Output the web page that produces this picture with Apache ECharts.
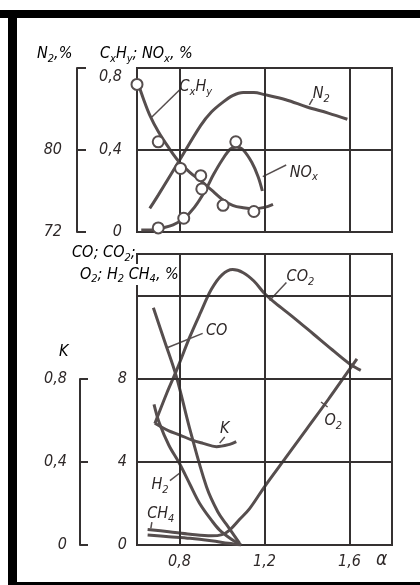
<!DOCTYPE html>
<html><head><meta charset="utf-8">
<script src="https://cdn.jsdelivr.net/npm/echarts@6/dist/echarts.min.js"></script>
<style>html,body{margin:0;padding:0;background:#fff}#c{width:420px;height:585px}</style>
</head><body><div id="c"></div>
<script>
// ---------- data (alpha, value) ----------
const xGridTicks = [0.8, 1.2, 1.6];
const topYGrid = [0.4];
const bottomYGrid = [4, 8, 12];

const cxhyCurve = [[0.60,0.74],[0.63,0.65],[0.66,0.57],[0.70,0.49],[0.75,0.41],[0.80,0.34],[0.85,0.29],[0.90,0.25],[0.95,0.205],[1.00,0.16],[1.05,0.13],[1.10,0.118],[1.15,0.113],[1.20,0.12],[1.24,0.135]];
const cxhyPoints = [[0.60,0.72],[0.70,0.44],[0.805,0.31],[0.90,0.275],[1.005,0.13],[1.15,0.10]];
const noxCurve = [[0.62,0.01],[0.67,0.01],[0.72,0.02],[0.77,0.035],[0.82,0.065],[0.87,0.12],[0.92,0.2],[0.96,0.28],[1.0,0.35],[1.04,0.405],[1.07,0.415],[1.10,0.40],[1.14,0.34],[1.17,0.27],[1.19,0.2]];
const noxPoints = [[0.70,0.02],[0.82,0.067],[0.905,0.21],[1.065,0.44]];
const n2Curve = [[0.66,74.3],[0.70,75.6],[0.80,79.0],[0.90,82.4],[0.95,83.7],[1.0,84.6],[1.05,85.3],[1.10,85.6],[1.15,85.6],[1.20,85.4],[1.30,84.9],[1.40,84.2],[1.50,83.6],[1.59,83.0]];

const co2Curve = [[0.684,5.84],[0.74,7.3],[0.786,8.4],[0.848,10.0],[0.90,11.2],[0.95,12.3],[1.0,13.0],[1.05,13.25],[1.10,13.1],[1.15,12.7],[1.20,12.1],[1.25,11.65],[1.33,11.0],[1.43,10.15],[1.52,9.38],[1.60,8.72],[1.653,8.4]];
const coCurve = [[0.677,11.41],[0.73,9.8],[0.786,8.08],[0.848,5.6],[0.927,2.8],[0.98,1.6],[1.02,1.0],[1.083,0.08]];
const h2Curve = [[0.68,6.77],[0.706,5.84],[0.75,4.8],[0.80,3.92],[0.85,2.9],[0.895,2.0],[0.95,1.2],[0.989,0.72],[1.05,0.24],[1.09,0.0]];
const o2Curve = [[0.65,0.75],[0.75,0.64],[0.85,0.52],[0.95,0.44],[1.0,0.5],[1.036,0.72],[1.08,1.2],[1.13,1.75],[1.2,2.8],[1.3,4.2],[1.4,5.6],[1.5,7.0],[1.6,8.45],[1.635,8.95]];
const ch4Curve = [[0.65,0.48],[0.75,0.4],[0.85,0.32],[0.95,0.2],[1.03,0.08],[1.09,0.0]];
const kCurve = [[0.684,0.587],[0.75,0.55],[0.802,0.53],[0.86,0.505],[0.911,0.49],[0.974,0.474],[1.036,0.485],[1.067,0.498]];

// annotation text anchors (alpha, value) and leader lines
const topLabels = [
  {t:'C_xH_y', a:0.877, v:0.707},
  {t:'N_2', a:1.467, v:0.673},
  {t:'NO_x', a:1.385, v:0.29}
];
const topLeaders = [
  [[0.67,0.561],[0.80,0.693]],
  [[1.411,0.62],[1.427,0.649]],
  [[1.192,0.27],[1.302,0.327]]
];
const botLabels = [
  {t:'CO_2', a:1.369, v:12.9},
  {t:'CO', a:0.975, v:10.3},
  {t:'K', a:1.013, v:5.6},
  {t:'O_2', a:1.524, v:5.95},
  {t:'H_2', a:0.708, v:2.88},
  {t:'CH_4', a:0.712, v:1.49}
];
const botLeaders = [
  [[1.224,11.76],[1.303,12.63]],
  [[0.745,9.5],[0.909,10.18]],
  [[0.989,4.9],[1.013,5.2]],
  [[1.466,6.88],[1.497,6.64]],
  [[0.755,3.1],[0.806,3.5]],
  [[0.67,1.1],[0.665,0.8]]
];

// ---------- styles ----------
const FONT = '"Liberation Sans Narrow","DejaVu Sans Condensed","DejaVu Sans",sans-serif';
const INK = '#2e2828';
const LINE = '#564e4e';
const GRIDC = '#353131';
const FS = 16;
const RICH = {
  m:{fontSize:FS,fontStyle:'italic',fontFamily:FONT,color:INK,lineHeight:21},
  s:{fontSize:11,fontStyle:'italic',fontFamily:FONT,color:INK,lineHeight:11,verticalAlign:'bottom'},
  t:{fontSize:FS,fontStyle:'italic',fontFamily:FONT,color:INK,padding:[18,0,0,0]}
};
function rich(str){
  let out='';
  for(let i=0;i<str.length;i++){
    if(str[i]==='_'){ out+='{s|'+str[i+1]+'}'; i++; }
    else { let j=i; while(j<str.length && str[j]!=='_') j++; out+='{m|'+str.slice(i,j)+'}'; i=j-1; }
  }
  return out;
}
const comma = v => String(Math.round(v*10)/10).replace('.',',');
const labStyle = {fontSize:FS,fontStyle:'italic',fontFamily:FONT,color:INK};

function curve(data, xi, yi){
  return {type:'line', xAxisIndex:xi, yAxisIndex:yi, data:data, smooth:0.35, showSymbol:false, silent:true,
    lineStyle:{color:LINE,width:3}, z:3};
}
function points(data, xi, yi){
  return {type:'scatter', xAxisIndex:xi, yAxisIndex:yi, data:data, symbol:'circle', symbolSize:11, silent:true,
    itemStyle:{color:'#fff',borderColor:LINE,borderWidth:2,opacity:1}, z:5};
}
function gridLines(xi, yi, ys){
  return {type:'line', xAxisIndex:xi, yAxisIndex:yi, data:[], silent:true, z:1,
    markLine:{silent:true, symbol:'none', label:{show:false}, animation:false,
      lineStyle:{color:GRIDC,width:2,type:'solid'},
      data: xGridTicks.map(x=>({xAxis:x})).concat(ys.map(y=>({yAxis:y})))}};
}
function annot(labels, xi, yi){
  return {type:'scatter', xAxisIndex:xi, yAxisIndex:yi, symbolSize:1, silent:true, z:6,
    itemStyle:{color:'rgba(0,0,0,0)',opacity:1},
    data: labels.map(l=>({value:[l.a,l.v], label:{show:true, position:'inside', color:INK, textBorderWidth:0,
      formatter:rich(l.t), rich:RICH}}))};
}
function leaders(list, xi, yi){
  return {type:'lines', coordinateSystem:'cartesian2d', xAxisIndex:xi, yAxisIndex:yi, silent:true, z:4,
    lineStyle:{color:LINE,width:1.5,opacity:1}, data:list.map(c=>({coords:c}))};
}

const xBase = {type:'value', min:0.6, max:1.8, interval:0.2, splitLine:{show:false}, axisTick:{show:false},
  axisLine:{show:true,lineStyle:{color:GRIDC,width:2}}};

const chart = echarts.init(document.getElementById('c'), null, {renderer:'canvas'});
chart.setOption({
  animation:false,
  backgroundColor:'#fff',
  grid:[
    {left:137, right:28, top:68, height:164, show:true, borderColor:GRIDC, borderWidth:2, containLabel:false},
    {left:137, right:28, top:254, bottom:40, show:true, borderColor:GRIDC, borderWidth:2, containLabel:false},
    {left:137, right:28, top:379, bottom:40, show:false, containLabel:false}
  ],
  xAxis:[
    Object.assign({}, xBase, {gridIndex:0, axisLabel:{show:false}}),
    Object.assign({}, xBase, {gridIndex:1, axisLabel:Object.assign({margin:9, formatter:v=>{const r=Math.round(v*10)/10; return xGridTicks.includes(r)?comma(r):'';}}, labStyle)}),
    Object.assign({}, xBase, {gridIndex:2, show:false})
  ],
  yAxis:[
    {type:'value', gridIndex:0, min:0, max:0.8, interval:0.4, splitLine:{show:false}, axisTick:{show:false},
      axisLine:{show:true,lineStyle:{color:GRIDC,width:2}},
      axisLabel:Object.assign({margin:15, rich:RICH, formatter:v=>v===0?'0':(v>=0.8?'{t|'+comma(v)+'}':comma(v))}, labStyle)},
    {type:'value', gridIndex:0, position:'left', offset:60, min:72, max:88, interval:8, splitLine:{show:false},
      axisTick:{show:true, inside:true, length:9, lineStyle:{color:GRIDC,width:2}},
      axisLine:{show:true,lineStyle:{color:GRIDC,width:2}},
      axisLabel:Object.assign({margin:15, formatter:v=>v===88?'':String(v)}, labStyle)},
    {type:'value', gridIndex:1, min:0, max:14, interval:4, splitLine:{show:false}, axisTick:{show:false},
      axisLine:{show:true,lineStyle:{color:GRIDC,width:2}},
      axisLabel:Object.assign({margin:10, formatter:v=>(v<=8?String(v):'')}, labStyle)},
    {type:'value', gridIndex:2, position:'left', offset:57, min:0, max:0.8, interval:0.4, splitLine:{show:false},
      axisTick:{show:true, inside:true, length:8, lineStyle:{color:GRIDC,width:2}},
      axisLine:{show:true,lineStyle:{color:GRIDC,width:2}},
      axisLabel:Object.assign({margin:13, formatter:v=>v===0?'0':comma(v)}, labStyle)}
  ],
  series:[
    gridLines(0,0,topYGrid),
    gridLines(1,2,bottomYGrid),
    curve(cxhyCurve,0,0),
    curve(noxCurve,0,0),
    curve(n2Curve,0,1),
    points(cxhyPoints,0,0),
    points(noxPoints,0,0),
    curve(co2Curve,1,2),
    curve(coCurve,1,2),
    curve(h2Curve,1,2),
    curve(o2Curve,1,2),
    curve(ch4Curve,1,2),
    curve(kCurve,2,3),
    annot(topLabels,0,0),
    leaders(topLeaders,0,0),
    annot(botLabels,1,2),
    leaders(botLeaders,1,2)
  ],
  graphic:[
    {type:'rect', shape:{x:0,y:10,width:420,height:8}, style:{fill:'#000'}, z:100},
    {type:'rect', shape:{x:8,y:10,width:9,height:575}, style:{fill:'#000'}, z:100},
    {type:'rect', shape:{x:8,y:582,width:412,height:3}, style:{fill:'#000'}, z:100},
    {type:'text', left:37, top:46, style:{text:rich('N_2,%'), rich:RICH}, z:50},
    {type:'text', left:100, top:46, style:{text:rich('C_xH_y; NO_x, %'), rich:RICH}, z:50},
    {type:'text', left:72, top:245, style:{text:rich('CO; CO_2;'), rich:RICH}, z:50},
    {type:'text', left:80, top:264, style:{text:rich('O_2; H_2 CH_4, %'), rich:RICH, backgroundColor:'#fff'}, z:50},
    {type:'text', left:59, top:344, style:{text:rich('K'), rich:RICH}, z:50},
    {type:'text', left:376, top:551, style:{text:'α', font:'italic 19px '+FONT, fill:INK}, z:50}
  ]
});
</script>
</body></html>
